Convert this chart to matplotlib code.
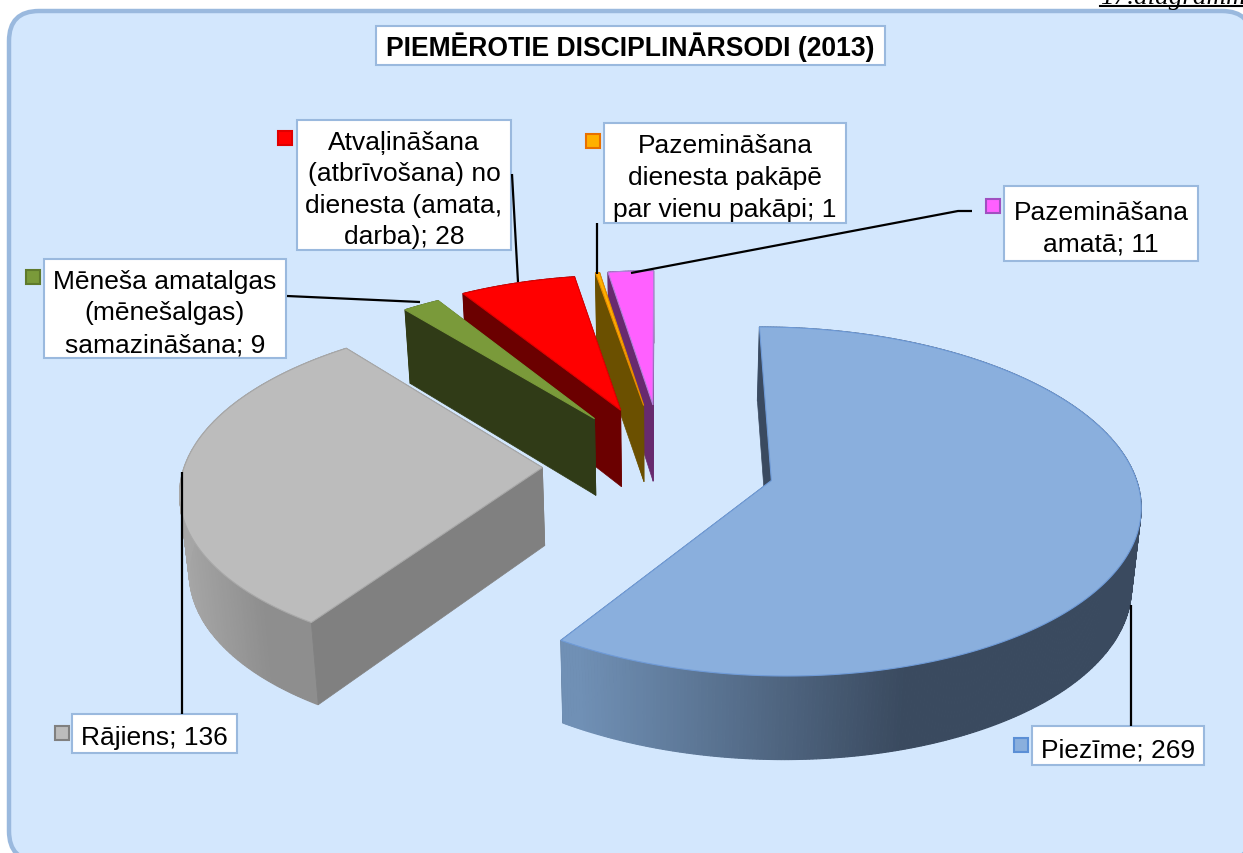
import numpy as np
import matplotlib
matplotlib.use('Agg')
import matplotlib.pyplot as plt
from matplotlib.patches import Polygon, Rectangle, FancyBboxPatch

plt.rcParams['font.family'] = ['Liberation Sans', 'DejaVu Sans']

# chart data, in pie order (clockwise from 12 o'clock)
values = [269, 136, 9, 28, 1, 11]
labels = ['Piezīme; 269', 'Rājiens; 136', 'Mēneša amatalgas\n(mēnešalgas)\nsamazināšana; 9',
          'Atvaļināšana\n(atbrīvošana) no\ndienesta (amata,\ndarba); 28',
          'Pazemināšana\ndienesta pakāpē\npar vienu pakāpi; 1', 'Pazemināšana\namatā; 11']
title = 'PIEMĒROTIE DISCIPLINĀRSODI (2013)'

# slice styles
explode = [0.315, 0.307, 0.345, 0.358, 0.37, 0.37]
nudgeX = [0.0, -0.015, 0.014, 0.014, 0.012, 0.008]
radius = [0.99, 0.98, 0.955, 0.955, 0.955, 0.955]
topColors = ['#8aafdd', '#bcbcbc', '#7a9a3a', '#ff0000', '#ffb000', '#ff60ff']
edgeColors = ['#6f9bd8', '#a8a8a8', '#7a9a3a', '#e00000', '#e88a00', '#b080d8']
cutColors = ['#3a4a60', '#808080', '#303b17', '#6b0000', '#6b5000', '#672a6e']
rimLeft = ['#7090b5', '#b4b4b4', '#303b17', '#6b0000', '#6b5000', '#672a6e']
rimRight = ['#3a4a5f', '#8e8e8e', '#303b17', '#6b0000', '#6b5000', '#672a6e']
rimGain = [1.55, 1.35, 1, 1, 1, 1]
keyEdges = ['#5b8fd6', '#808080', '#5f7a2c', '#e00000', '#e87000', '#a050c0']

# label layout in pixels: box (x0, y0, x1, y1), key square (x, y)
boxes = [(1032, 727, 1204, 766), (72, 715, 237, 754), (44, 260, 286, 359),
         (297, 121, 511, 251), (604, 124, 846, 224), (1004, 187, 1198, 262)]
keys = [(1014, 739), (55, 727), (26, 271), (278, 132), (586, 135), (986, 200)]
leaders = [([1131, 1131], [606, 727]), ([182, 182], [473, 715]), ([287, 420], [297, 303]),
           ([512, 518], [175, 283]), ([597, 597], [224, 275]), ([631, 958, 972], [274, 212, 212])]

# projection of the pie plane to the picture
CX, CY = 660, 466
RX, RY = 365, 170
PERSP = 0.12
DEPTH = 78
SHRINK = 0.02


def project(X, Y, drop=0.0):
    k = 1 / (1 + PERSP * Y)
    sx = CX + X * RX * k
    sy = CY - Y * RY * k
    sx = CX + (sx - CX) * (1 - SHRINK * drop / DEPTH)
    return sx, sy + drop * np.sqrt(k)


def lerpColor(c1, c2, t):
    a = np.array(matplotlib.colors.to_rgb(c1))
    b = np.array(matplotlib.colors.to_rgb(c2))
    return tuple(a + (b - a) * t)


def cutFace(ox, oy, x, y, col):
    pts = [project(ox, oy), project(x, y), project(x, y, DEPTH), project(ox, oy, DEPTH)]
    ax.add_patch(Polygon(pts, closed=True, fc=col, ec=col, lw=0.5))


fig = plt.figure(figsize=(12.43, 8.54), dpi=100)
ax = fig.add_axes([0, 0, 1, 1])
ax.set_xlim(0, 1243)
ax.set_ylim(854, 0)
ax.axis('off')

# panel
ax.add_patch(FancyBboxPatch((9 + 30, 12 + 30), 1252 - 9 - 60, 862 - 12 - 60,
                            boxstyle='round,pad=30,rounding_size=30',
                            fc='#d3e7fd', ec='#9ab9de', lw=3.2))

# caption cut off at the page top
ax.text(1100, 4, '17.diagramma', family='Liberation Serif', style='italic', fontsize=19.5, va='baseline', ha='left')
ax.plot([1100, 1243], [7, 7], color='black', lw=1.5)

# slice angles from the values
fracs = np.array(values) / sum(values) * 360
ends = np.cumsum(fracs)
starts = ends - fracs
geo = []
for i in range(len(values)):
    mid = np.radians((starts[i] + ends[i]) / 2)
    ox = explode[i] * np.sin(mid) + nudgeX[i]
    oy = explode[i] * np.cos(mid)
    th = np.radians(np.linspace(starts[i], ends[i], int(fracs[i]) * 2 + 3))
    geo.append((ox, oy, ox + radius[i] * np.sin(th), oy + radius[i] * np.cos(th)))

# back slices first, blue goes on top of everything
for i in [5, 4, 3, 2, 1, 0]:
    ox, oy, xs, ys = geo[i]
    cutFace(ox, oy, xs[-1], ys[-1], cutColors[i])
    # outer rim, shaded from left to right
    x0 = project(xs.min(), ys[0])[0]
    x1 = project(xs.max(), ys[0])[0]
    for j in range(len(xs) - 1):
        pts = [project(xs[j], ys[j]), project(xs[j + 1], ys[j + 1]),
               project(xs[j + 1], ys[j + 1], DEPTH), project(xs[j], ys[j], DEPTH)]
        t = np.clip((pts[0][0] - x0) / max(x1 - x0, 1) * rimGain[i], 0, 1)
        col = lerpColor(rimLeft[i], rimRight[i], t)
        ax.add_patch(Polygon(pts, closed=True, fc=col, ec=col, lw=0.8))
    cutFace(ox, oy, xs[0], ys[0], cutColors[i])
    # top face
    pts = [project(ox, oy)] + [project(a, b) for a, b in zip(xs, ys)]
    ax.add_patch(Polygon(pts, closed=True, fc=topColors[i], ec=edgeColors[i], lw=0.8))

# leader lines
for lx, ly in leaders:
    ax.plot(lx, ly, color='black', lw=1.6, solid_capstyle='butt')

# data labels
for i in range(len(values)):
    x0, y0, x1, y1 = boxes[i]
    ax.add_patch(Rectangle((x0, y0), x1 - x0, y1 - y0, fc='white', ec='#9ab9de', lw=1.5))
    ax.text((x0 + x1) / 2, (y0 + y1) / 2 + 4, labels[i], ha='center', va='center', fontsize=19,
            linespacing=1.4, color='black')
    ax.add_patch(Rectangle(keys[i], 14, 14, fc=topColors[i], ec=keyEdges[i], lw=1.5))

# title
ax.add_patch(Rectangle((376, 27), 509, 39, fc='white', ec='#9ab9de', lw=1.5))
ax.text(630.5, 47, title, ha='center', va='center', fontsize=19.1, fontweight='bold', color='black')

fig.savefig('out.png', dpi=100)
